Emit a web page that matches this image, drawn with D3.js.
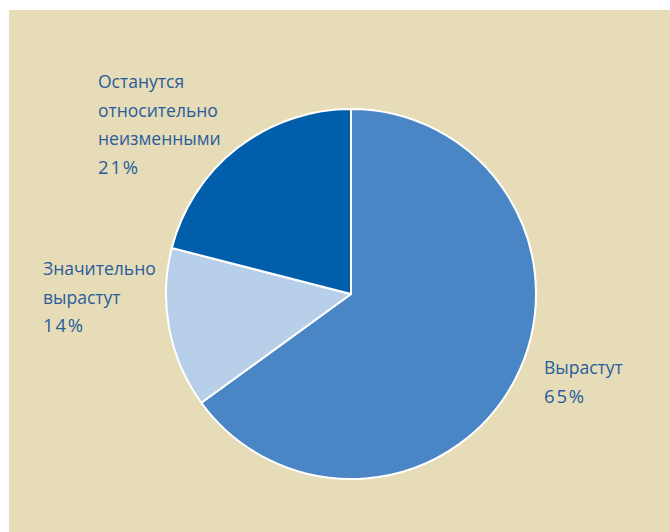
<!DOCTYPE html>
<html lang="ru">
<head>
    <meta charset="UTF-8">
    <title>Pie Chart</title>
    <style>
        body { margin: 0; background: #fff; }
        #chart { font-family: "Open Sans", "Noto Sans", sans-serif; }
        .label { fill: #2a5c9b; font-size: 17.5px; }
        .pct { font-size: 18.5px; letter-spacing: 1.8px; }
    </style>
    <script src="https://d3js.org/d3.v7.min.js"></script>
</head>
<body>
    <div id="chart"></div>
    <script>
const categories = ["Вырастут", "Значительно вырастут", "Останутся относительно неизменными"];
const values = [65, 14, 21];
const colors = ["#4a86c5", "#b8cfe9", "#005eaa"];
const labelLines = [
    ["Вырастут", "65%"],
    ["Значительно", "вырастут", "14%"],
    ["Останутся", "относительно", "неизменными", "21%"]
];

const W = 670, H = 532;
const svg = d3.select("#chart").append("svg")
    .attr("width", W).attr("height", H);

svg.append("rect")
    .attr("x", 9).attr("y", 10)
    .attr("width", W - 9).attr("height", H - 10)
    .attr("fill", "#e6ddb8");

const cx = 351, cy = 294, r = 185;
const g = svg.append("g").attr("transform", "translate(" + cx + "," + cy + ")");

const pie = d3.pie().sort(null).value(d => d)(values);
const arc = d3.arc().innerRadius(0).outerRadius(r);

g.selectAll("path")
    .data(pie)
    .enter().append("path")
    .attr("d", arc)
    .attr("fill", (d, i) => colors[i])
    .attr("stroke", "#fff")
    .attr("stroke-width", 2)
    .attr("stroke-linejoin", "round");

// label anchor positions (left x, first baseline)
const labelPos = [[544, 374], [43, 275], [98, 88]];
const lineH = 28.5;

labelLines.forEach((lines, i) => {
    const t = svg.append("text")
        .attr("class", "label")
        .attr("x", labelPos[i][0])
        .attr("y", labelPos[i][1]);
    lines.forEach((s, j) => {
        t.append("tspan")
            .attr("class", /%/.test(s) ? "pct" : null)
            .attr("x", labelPos[i][0])
            .attr("dy", j === 0 ? 0 : lineH)
            .text(s);
    });
});
    </script>
</body>
</html>
